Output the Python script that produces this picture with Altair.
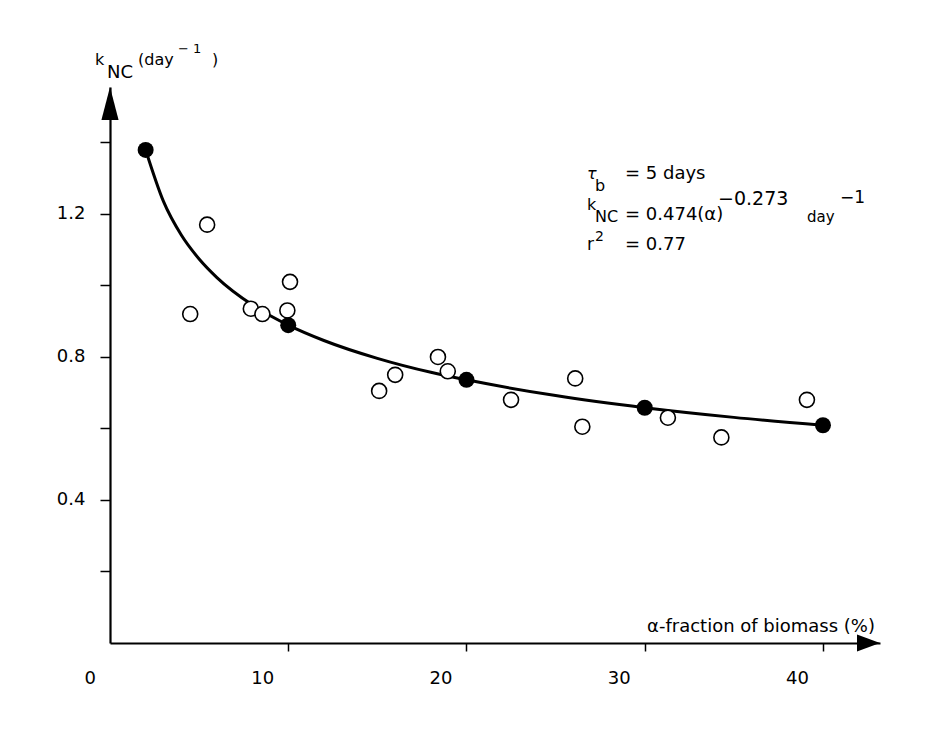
import altair as alt
import pandas as pd

FONT = "DejaVu Sans"

# Axis extents (the arrow tips sit at the ends of both scales)
X_MAX = 43.2
Y_MAX = 1.555

# Fitted values at the sampled biomass fractions (filled symbols)
fit_x = [2, 10, 20, 30, 40]
fit_y = [1.379, 0.889, 0.736, 0.658, 0.609]

# Observed rate constants (open symbols)
obs_x = [4.5, 5.45, 7.9, 8.55, 9.95, 10.1, 15.1, 16.0, 18.4, 18.95,
         22.5, 26.1, 26.5, 31.3, 34.3, 39.1]
obs_y = [0.92, 1.17, 0.935, 0.92, 0.93, 1.01, 0.705, 0.75, 0.80, 0.76,
         0.68, 0.74, 0.605, 0.63, 0.575, 0.68]

# Power-law fit curve k_NC = 0.474 (alpha)^-0.273
curve_x = [2, 3, 4, 5, 6, 8, 10, 12, 15, 18, 20, 25, 30, 35, 40]
curve_y = [1.379, 1.235, 1.141, 1.074, 1.022, 0.945, 0.889, 0.846,
           0.796, 0.757, 0.736, 0.692, 0.658, 0.631, 0.609]

# Axis ticks
y_ticks = [0.2, 0.4, 0.6, 0.8, 1.0, 1.2, 1.4]
y_labelled = [0.4, 0.8, 1.2]
x_ticks = [0, 10, 20, 30, 40]

fit_df = pd.DataFrame({"x": fit_x, "y": fit_y})
obs_df = pd.DataFrame({"x": obs_x, "y": obs_y})
curve_df = pd.DataFrame({"x": curve_x, "y": curve_y})

xs = alt.Scale(domain=[0, X_MAX], nice=False, zero=False)
ys = alt.Scale(domain=[0, Y_MAX], nice=False, zero=False)

label_test = " || ".join(f"abs(datum.value - {v}) < 0.001" for v in y_labelled)

y_axis = alt.Axis(
    values=y_ticks, title=None, grid=False,
    labelExpr=f"({label_test}) ? format(datum.value, '.1f') : ''",
    domainColor="black", domainWidth=2.2,
    tickColor="black", tickWidth=1.5, tickSize=10,
    labelFont=FONT, labelFontSize=18, labelColor="black", labelPadding=15,
)
x_axis = alt.Axis(
    values=x_ticks, title=None, grid=False, format="d",
    domainColor="black", domainWidth=2.2,
    tickColor="black", tickWidth=1.5, tickSize=8,
    tickOpacity={"condition": {"test": "datum.value === 0", "value": 0}, "value": 1},
    labelFont=FONT, labelFontSize=18, labelColor="black", labelPadding=18,
    labelOffset=-26,
)

curve = alt.Chart(curve_df).mark_line(
    color="black", strokeWidth=3, interpolate="monotone"
).encode(
    x=alt.X("x:Q", scale=xs, axis=x_axis),
    y=alt.Y("y:Q", scale=ys, axis=y_axis),
)

observed = alt.Chart(obs_df).mark_circle(
    size=225, fill="white", stroke="black", strokeWidth=1.6, opacity=1
).encode(x=alt.X("x:Q", scale=xs), y=alt.Y("y:Q", scale=ys))

fitted = alt.Chart(fit_df).mark_circle(
    size=256, color="black", opacity=1
).encode(x=alt.X("x:Q", scale=xs), y=alt.Y("y:Q", scale=ys))

# Arrowheads at the ends of the two axes
y_arrow = alt.Chart(alt.Data(values=[{"x": 0, "y": Y_MAX}])).mark_point(
    shape="M0,0L0.26,1L-0.26,1Z", size=4356, filled=True,
    color="black", opacity=1, strokeWidth=0
).encode(x=alt.X("x:Q", scale=xs), y=alt.Y("y:Q", scale=ys))

x_arrow = alt.Chart(alt.Data(values=[{"x": X_MAX, "y": 0}])).mark_point(
    shape="M0,0L-1,-0.37L-1,0.37Z", size=2116, filled=True,
    color="black", opacity=1, strokeWidth=0
).encode(x=alt.X("x:Q", scale=xs), y=alt.Y("y:Q", scale=ys))


def txt(text, px, py, size=18, style="normal", align="left"):
    return alt.Chart(alt.Data(values=[{}])).mark_text(
        text=text, align=align, baseline="alphabetic", font=FONT,
        fontSize=size, fontStyle=style, color="black"
    ).encode(x=alt.value(px), y=alt.value(py))


texts = [
    # y-axis title: k_NC (day^-1)
    txt("k", -15, -22, 16),
    txt("NC", -3, -9, 18),
    txt("(day", 28, -22, 16),
    txt("− 1", 68, -34, 13),
    txt(")", 102, -22, 16),
    # x-axis title
    txt("α-fraction of biomass (%)", 765, 545, 18, align="right"),
    # fit statistics
    txt("τ", 477, 92, 16, style="italic"),
    txt("b", 485, 104, 16),
    txt("= 5 days", 515, 92, 18),
    txt("k", 477, 123, 16),
    txt("NC", 485, 135, 16),
    txt("= 0.474(α)", 515, 133, 18),
    txt("−0.273", 608, 118, 19),
    txt("day", 697, 135, 15),
    txt("−1", 730, 116, 17),
    txt("r", 477, 163, 17),
    txt("2", 485, 154, 14),
    txt("= 0.77", 515, 163, 18),
]

chart = alt.layer(curve, observed, fitted, y_arrow, x_arrow, *texts).properties(
    width=770, height=556,
    autosize=alt.AutoSizeParams(type="none"),
    padding={"left": 110, "top": 87, "right": 50, "bottom": 89},
    background="white",
).configure_view(stroke=None)

chart.save("out.html", embed_options={"renderer": "svg", "actions": False})
